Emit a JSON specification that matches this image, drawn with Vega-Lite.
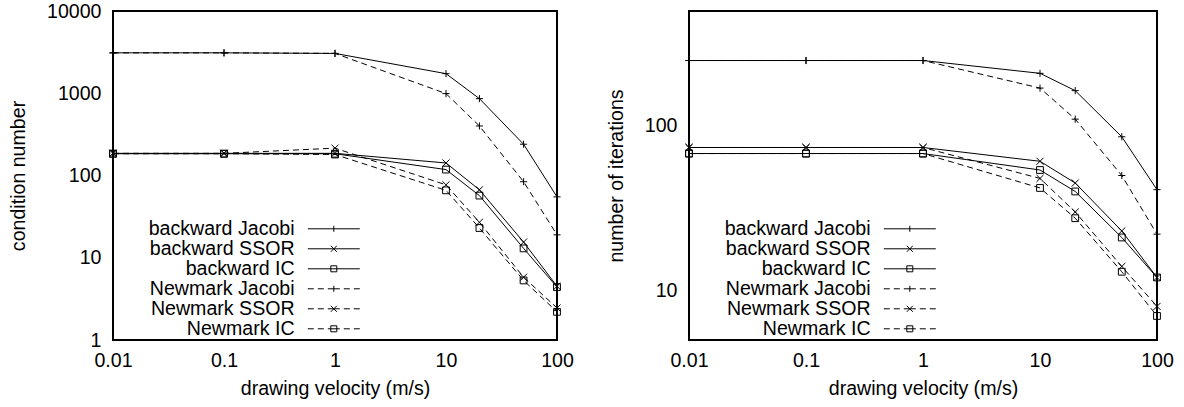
{
  "$schema": "https://vega.github.io/schema/vega-lite/v6.json",
  "padding": {"left": 7, "top": 0, "right": 0, "bottom": 0},
  "background": "white",
  "config": {
    "view": {"stroke": "black", "strokeWidth": 2},
    "axis": {
      "labelFont": "Liberation Sans", "labelFontSize": 19.6, "labelColor": "black",
      "titleFont": "Liberation Sans", "titleFontSize": 19.6, "titleFontWeight": "normal", "titleColor": "black",
      "domain": false, "grid": false, "tickColor": "black", "tickWidth": 1, "tickSize": 0,
      "labelFlush": false, "labelOverlap": false, "labelBound": false
    },
    "axisX": {"labelPadding": 11, "titlePadding": 10},
    "axisY": {"labelPadding": 12, "titlePadding": 18},
    "legend": {
      "orient": "none", "legendX": 211, "legendY": 208, "title": null, "padding": 0, "rowPadding": -2.2,
      "symbolSize": 16, "labelAlign": "right", "labelOffset": -49,
      "labelFont": "Liberation Sans", "labelFontSize": 19.6, "labelColor": "black", "labelLimit": 0,
      "symbolStrokeColor": "black", "symbolStrokeWidth": 1
    }
  },
  "datasets": {
    "cond": [
      {"s": "backward Jacobi", "v": 0.01, "y": 3100}, {"s": "backward Jacobi", "v": 0.1, "y": 3100}, {"s": "backward Jacobi", "v": 1, "y": 3050}, {"s": "backward Jacobi", "v": 10, "y": 1730}, {"s": "backward Jacobi", "v": 20, "y": 860}, {"s": "backward Jacobi", "v": 50, "y": 240}, {"s": "backward Jacobi", "v": 100, "y": 55},
      {"s": "backward SSOR", "v": 0.01, "y": 186}, {"s": "backward SSOR", "v": 0.1, "y": 186}, {"s": "backward SSOR", "v": 1, "y": 186}, {"s": "backward SSOR", "v": 10, "y": 142}, {"s": "backward SSOR", "v": 20, "y": 67}, {"s": "backward SSOR", "v": 50, "y": 15.5}, {"s": "backward SSOR", "v": 100, "y": 4.5},
      {"s": "backward IC", "v": 0.01, "y": 184}, {"s": "backward IC", "v": 0.1, "y": 184}, {"s": "backward IC", "v": 1, "y": 184}, {"s": "backward IC", "v": 10, "y": 118}, {"s": "backward IC", "v": 20, "y": 57}, {"s": "backward IC", "v": 50, "y": 13}, {"s": "backward IC", "v": 100, "y": 4.4},
      {"s": "Newmark Jacobi", "v": 0.01, "y": 3100}, {"s": "Newmark Jacobi", "v": 0.1, "y": 3100}, {"s": "Newmark Jacobi", "v": 1, "y": 3050}, {"s": "Newmark Jacobi", "v": 10, "y": 990}, {"s": "Newmark Jacobi", "v": 20, "y": 400}, {"s": "Newmark Jacobi", "v": 50, "y": 84}, {"s": "Newmark Jacobi", "v": 100, "y": 19},
      {"s": "Newmark SSOR", "v": 0.01, "y": 186}, {"s": "Newmark SSOR", "v": 0.1, "y": 186}, {"s": "Newmark SSOR", "v": 1, "y": 215}, {"s": "Newmark SSOR", "v": 10, "y": 77}, {"s": "Newmark SSOR", "v": 20, "y": 27}, {"s": "Newmark SSOR", "v": 50, "y": 5.8}, {"s": "Newmark SSOR", "v": 100, "y": 2.45},
      {"s": "Newmark IC", "v": 0.01, "y": 184}, {"s": "Newmark IC", "v": 0.1, "y": 184}, {"s": "Newmark IC", "v": 1, "y": 180}, {"s": "Newmark IC", "v": 10, "y": 66}, {"s": "Newmark IC", "v": 20, "y": 23}, {"s": "Newmark IC", "v": 50, "y": 5.3}, {"s": "Newmark IC", "v": 100, "y": 2.2}
    ],
    "iter": [
      {"s": "backward Jacobi", "v": 0.01, "y": 250}, {"s": "backward Jacobi", "v": 0.1, "y": 250}, {"s": "backward Jacobi", "v": 1, "y": 250}, {"s": "backward Jacobi", "v": 10, "y": 209}, {"s": "backward Jacobi", "v": 20, "y": 164}, {"s": "backward Jacobi", "v": 50, "y": 86}, {"s": "backward Jacobi", "v": 100, "y": 41},
      {"s": "backward SSOR", "v": 0.01, "y": 74}, {"s": "backward SSOR", "v": 0.1, "y": 74}, {"s": "backward SSOR", "v": 1, "y": 74}, {"s": "backward SSOR", "v": 10, "y": 61}, {"s": "backward SSOR", "v": 20, "y": 45}, {"s": "backward SSOR", "v": 50, "y": 23}, {"s": "backward SSOR", "v": 100, "y": 12},
      {"s": "backward IC", "v": 0.01, "y": 68}, {"s": "backward IC", "v": 0.1, "y": 68}, {"s": "backward IC", "v": 1, "y": 68}, {"s": "backward IC", "v": 10, "y": 54}, {"s": "backward IC", "v": 20, "y": 40}, {"s": "backward IC", "v": 50, "y": 21}, {"s": "backward IC", "v": 100, "y": 12},
      {"s": "Newmark Jacobi", "v": 0.01, "y": 250}, {"s": "Newmark Jacobi", "v": 0.1, "y": 250}, {"s": "Newmark Jacobi", "v": 1, "y": 250}, {"s": "Newmark Jacobi", "v": 10, "y": 170}, {"s": "Newmark Jacobi", "v": 20, "y": 110}, {"s": "Newmark Jacobi", "v": 50, "y": 50}, {"s": "Newmark Jacobi", "v": 100, "y": 22},
      {"s": "Newmark SSOR", "v": 0.01, "y": 74}, {"s": "Newmark SSOR", "v": 0.1, "y": 74}, {"s": "Newmark SSOR", "v": 1, "y": 74}, {"s": "Newmark SSOR", "v": 10, "y": 48}, {"s": "Newmark SSOR", "v": 20, "y": 30}, {"s": "Newmark SSOR", "v": 50, "y": 14}, {"s": "Newmark SSOR", "v": 100, "y": 8},
      {"s": "Newmark IC", "v": 0.01, "y": 68}, {"s": "Newmark IC", "v": 0.1, "y": 68}, {"s": "Newmark IC", "v": 1, "y": 68}, {"s": "Newmark IC", "v": 10, "y": 42}, {"s": "Newmark IC", "v": 20, "y": 27.5}, {"s": "Newmark IC", "v": 50, "y": 13}, {"s": "Newmark IC", "v": 100, "y": 7}
    ]
  },
  "resolve": {"scale": {"color": "independent"}, "legend": {"color": "independent"}},
  "spacing": 30,
  "hconcat": [
    {
      "width": 444, "height": 329,
      "data": {"name": "cond"},
      "layer": [
        {
          "transform": [{"filter": "indexof(datum.s, 'backward') >= 0"}],
          "mark": {"type": "line", "strokeWidth": 1, "clip": false},
          "encoding": {
            "x": {"field": "v", "type": "quantitative", "scale": {"type": "log", "domain": [0.01, 100], "nice": false},
              "axis": {"orient": "bottom", "title": "drawing velocity (m/s)",
                "values": [0.01,0.02,0.03,0.04,0.05,0.06,0.07,0.08,0.09,0.1,0.2,0.3,0.4,0.5,0.6,0.7,0.8,0.9,1,2,3,4,5,6,7,8,9,10,20,30,40,50,60,70,80,90,100],
                "labelExpr": "abs(log(datum.value)/LN10 - round(log(datum.value)/LN10)) < 0.001 ? format(datum.value, '~g') : ''",
                "encode": {"ticks": {"update": {"y2": {"signal": "abs(log(datum.value)/LN10 - round(log(datum.value)/LN10)) < 0.001 ? -6 : -3"}}}}}},
            "y": {"field": "y", "type": "quantitative", "scale": {"type": "log", "domain": [1, 10000], "nice": false},
              "axis": {"orient": "left", "title": "condition number",
                "values": [1,2,3,4,5,6,7,8,9,10,20,30,40,50,60,70,80,90,100,200,300,400,500,600,700,800,900,1000,2000,3000,4000,5000,6000,7000,8000,9000,10000],
                "labelExpr": "abs(log(datum.value)/LN10 - round(log(datum.value)/LN10)) < 0.001 ? format(datum.value, '~g') : ''",
                "encode": {"ticks": {"update": {"x2": {"signal": "abs(log(datum.value)/LN10 - round(log(datum.value)/LN10)) < 0.001 ? 6 : 3"}}}}}},
            "color": {"field": "s", "type": "nominal",
              "scale": {"domain": ["backward Jacobi","backward SSOR","backward IC","Newmark Jacobi","Newmark SSOR","Newmark IC"], "range": ["black","black","black","black","black","black"]},
              "legend": {"encode": {"symbols": {"update": {
                "shape": {"signal": "(indexof(datum.value, 'Newmark') >= 0 ? 'M-13,0H-10M-8,0H-5M-3,0H3M5,0H8M10,0H13' : 'M-13,0H13') + (indexof(datum.value, 'Jacobi') >= 0 ? 'M0,-1.5V1.5' : indexof(datum.value, 'SSOR') >= 0 ? 'M-1.5,-1.5L1.5,1.5M-1.5,1.5L1.5,-1.5' : 'M-1.5,-1.5H1.5V1.5H-1.5Z')"},
                "fill": {"value": "transparent"}, "stroke": {"value": "black"}, "strokeWidth": {"value": 1}}}}}}
          }
        },
        {
          "transform": [{"filter": "indexof(datum.s, 'Newmark') >= 0"}],
          "mark": {"type": "line", "strokeWidth": 1, "strokeDash": [6, 4], "clip": false},
          "encoding": {
            "x": {"field": "v", "type": "quantitative", "scale": {"type": "log", "domain": [0.01, 100], "nice": false}, "axis": null},
            "y": {"field": "y", "type": "quantitative", "scale": {"type": "log", "domain": [1, 10000], "nice": false}, "axis": null},
            "color": {"field": "s", "type": "nominal",
              "scale": {"domain": ["backward Jacobi","backward SSOR","backward IC","Newmark Jacobi","Newmark SSOR","Newmark IC"], "range": ["black","black","black","black","black","black"]},
              "legend": {"encode": {"symbols": {"update": {
                "shape": {"signal": "(indexof(datum.value, 'Newmark') >= 0 ? 'M-13,0H-10M-8,0H-5M-3,0H3M5,0H8M10,0H13' : 'M-13,0H13') + (indexof(datum.value, 'Jacobi') >= 0 ? 'M0,-1.5V1.5' : indexof(datum.value, 'SSOR') >= 0 ? 'M-1.5,-1.5L1.5,1.5M-1.5,1.5L1.5,-1.5' : 'M-1.5,-1.5H1.5V1.5H-1.5Z')"},
                "fill": {"value": "transparent"}, "stroke": {"value": "black"}, "strokeWidth": {"value": 1}}}}}}
          }
        },
        {
          "transform": [{"filter": "indexof(datum.s, 'Jacobi') >= 0"}],
          "mark": {"type": "point", "shape": "M-1,0H1M0,-1V1", "filled": false, "color": "black", "strokeWidth": 1, "size": 50, "opacity": 1, "clip": false},
          "encoding": {
            "x": {"field": "v", "type": "quantitative", "scale": {"type": "log", "domain": [0.01, 100], "nice": false},
              "axis": {"orient": "top", "title": null, "labels": false,
                "values": [0.01,0.02,0.03,0.04,0.05,0.06,0.07,0.08,0.09,0.1,0.2,0.3,0.4,0.5,0.6,0.7,0.8,0.9,1,2,3,4,5,6,7,8,9,10,20,30,40,50,60,70,80,90,100],
                "encode": {"ticks": {"update": {"y2": {"signal": "abs(log(datum.value)/LN10 - round(log(datum.value)/LN10)) < 0.001 ? 6 : 3"}}}}}},
            "y": {"field": "y", "type": "quantitative", "scale": {"type": "log", "domain": [1, 10000], "nice": false},
              "axis": {"orient": "right", "title": null, "labels": false,
                "values": [1,2,3,4,5,6,7,8,9,10,20,30,40,50,60,70,80,90,100,200,300,400,500,600,700,800,900,1000,2000,3000,4000,5000,6000,7000,8000,9000,10000],
                "encode": {"ticks": {"update": {"x2": {"signal": "abs(log(datum.value)/LN10 - round(log(datum.value)/LN10)) < 0.001 ? -6 : -3"}}}}}}
          }
        },
        {
          "transform": [{"filter": "indexof(datum.s, 'SSOR') >= 0"}],
          "mark": {"type": "point", "shape": "M-1,-1L1,1M-1,1L1,-1", "filled": false, "color": "black", "strokeWidth": 1, "size": 50, "opacity": 1, "clip": false},
          "encoding": {
            "x": {"field": "v", "type": "quantitative", "scale": {"type": "log", "domain": [0.01, 100], "nice": false}, "axis": null},
            "y": {"field": "y", "type": "quantitative", "scale": {"type": "log", "domain": [1, 10000], "nice": false}, "axis": null}
          }
        },
        {
          "transform": [{"filter": "indexof(datum.s, 'IC') >= 0"}],
          "mark": {"type": "point", "shape": "M-1,-1H1V1H-1Z", "filled": false, "color": "black", "strokeWidth": 1, "size": 46, "opacity": 1, "clip": false},
          "encoding": {
            "x": {"field": "v", "type": "quantitative", "scale": {"type": "log", "domain": [0.01, 100], "nice": false}, "axis": null},
            "y": {"field": "y", "type": "quantitative", "scale": {"type": "log", "domain": [1, 10000], "nice": false}, "axis": null}
          }
        }
      ],
      "resolve": {"axis": {"x": "independent", "y": "independent"}}
    },
    {
      "width": 468, "height": 329,
      "data": {"name": "iter"},
      "layer": [
        {
          "transform": [{"filter": "indexof(datum.s, 'backward') >= 0"}],
          "mark": {"type": "line", "strokeWidth": 1, "clip": false},
          "encoding": {
            "x": {"field": "v", "type": "quantitative", "scale": {"type": "log", "domain": [0.01, 100], "nice": false},
              "axis": {"orient": "bottom", "title": "drawing velocity (m/s)",
                "values": [0.01,0.02,0.03,0.04,0.05,0.06,0.07,0.08,0.09,0.1,0.2,0.3,0.4,0.5,0.6,0.7,0.8,0.9,1,2,3,4,5,6,7,8,9,10,20,30,40,50,60,70,80,90,100],
                "labelExpr": "abs(log(datum.value)/LN10 - round(log(datum.value)/LN10)) < 0.001 ? format(datum.value, '~g') : ''",
                "encode": {"ticks": {"update": {"y2": {"signal": "abs(log(datum.value)/LN10 - round(log(datum.value)/LN10)) < 0.001 ? -6 : -3"}}}}}},
            "y": {"field": "y", "type": "quantitative", "scale": {"type": "log", "domain": [5, 500], "nice": false},
              "axis": {"orient": "left", "title": "number of iterations",
                "values": [5,6,7,8,9,10,20,30,40,50,60,70,80,90,100,200,300,400,500],
                "labelExpr": "abs(log(datum.value)/LN10 - round(log(datum.value)/LN10)) < 0.001 ? format(datum.value, '~g') : ''",
                "encode": {"ticks": {"update": {"x2": {"signal": "abs(log(datum.value)/LN10 - round(log(datum.value)/LN10)) < 0.001 ? 6 : 3"}}}}}},
            "color": {"field": "s", "type": "nominal",
              "scale": {"domain": ["backward Jacobi","backward SSOR","backward IC","Newmark Jacobi","Newmark SSOR","Newmark IC"], "range": ["black","black","black","black","black","black"]},
              "legend": {"encode": {"symbols": {"update": {
                "shape": {"signal": "(indexof(datum.value, 'Newmark') >= 0 ? 'M-13,0H-10M-8,0H-5M-3,0H3M5,0H8M10,0H13' : 'M-13,0H13') + (indexof(datum.value, 'Jacobi') >= 0 ? 'M0,-1.5V1.5' : indexof(datum.value, 'SSOR') >= 0 ? 'M-1.5,-1.5L1.5,1.5M-1.5,1.5L1.5,-1.5' : 'M-1.5,-1.5H1.5V1.5H-1.5Z')"},
                "fill": {"value": "transparent"}, "stroke": {"value": "black"}, "strokeWidth": {"value": 1}}}}}}
          }
        },
        {
          "transform": [{"filter": "indexof(datum.s, 'Newmark') >= 0"}],
          "mark": {"type": "line", "strokeWidth": 1, "strokeDash": [6, 4], "clip": false},
          "encoding": {
            "x": {"field": "v", "type": "quantitative", "scale": {"type": "log", "domain": [0.01, 100], "nice": false}, "axis": null},
            "y": {"field": "y", "type": "quantitative", "scale": {"type": "log", "domain": [5, 500], "nice": false}, "axis": null},
            "color": {"field": "s", "type": "nominal",
              "scale": {"domain": ["backward Jacobi","backward SSOR","backward IC","Newmark Jacobi","Newmark SSOR","Newmark IC"], "range": ["black","black","black","black","black","black"]},
              "legend": {"encode": {"symbols": {"update": {
                "shape": {"signal": "(indexof(datum.value, 'Newmark') >= 0 ? 'M-13,0H-10M-8,0H-5M-3,0H3M5,0H8M10,0H13' : 'M-13,0H13') + (indexof(datum.value, 'Jacobi') >= 0 ? 'M0,-1.5V1.5' : indexof(datum.value, 'SSOR') >= 0 ? 'M-1.5,-1.5L1.5,1.5M-1.5,1.5L1.5,-1.5' : 'M-1.5,-1.5H1.5V1.5H-1.5Z')"},
                "fill": {"value": "transparent"}, "stroke": {"value": "black"}, "strokeWidth": {"value": 1}}}}}}
          }
        },
        {
          "transform": [{"filter": "indexof(datum.s, 'Jacobi') >= 0"}],
          "mark": {"type": "point", "shape": "M-1,0H1M0,-1V1", "filled": false, "color": "black", "strokeWidth": 1, "size": 50, "opacity": 1, "clip": false},
          "encoding": {
            "x": {"field": "v", "type": "quantitative", "scale": {"type": "log", "domain": [0.01, 100], "nice": false},
              "axis": {"orient": "top", "title": null, "labels": false,
                "values": [0.01,0.02,0.03,0.04,0.05,0.06,0.07,0.08,0.09,0.1,0.2,0.3,0.4,0.5,0.6,0.7,0.8,0.9,1,2,3,4,5,6,7,8,9,10,20,30,40,50,60,70,80,90,100],
                "encode": {"ticks": {"update": {"y2": {"signal": "abs(log(datum.value)/LN10 - round(log(datum.value)/LN10)) < 0.001 ? 6 : 3"}}}}}},
            "y": {"field": "y", "type": "quantitative", "scale": {"type": "log", "domain": [5, 500], "nice": false},
              "axis": {"orient": "right", "title": null, "labels": false,
                "values": [5,6,7,8,9,10,20,30,40,50,60,70,80,90,100,200,300,400,500],
                "encode": {"ticks": {"update": {"x2": {"signal": "abs(log(datum.value)/LN10 - round(log(datum.value)/LN10)) < 0.001 ? -6 : -3"}}}}}}
          }
        },
        {
          "transform": [{"filter": "indexof(datum.s, 'SSOR') >= 0"}],
          "mark": {"type": "point", "shape": "M-1,-1L1,1M-1,1L1,-1", "filled": false, "color": "black", "strokeWidth": 1, "size": 50, "opacity": 1, "clip": false},
          "encoding": {
            "x": {"field": "v", "type": "quantitative", "scale": {"type": "log", "domain": [0.01, 100], "nice": false}, "axis": null},
            "y": {"field": "y", "type": "quantitative", "scale": {"type": "log", "domain": [5, 500], "nice": false}, "axis": null}
          }
        },
        {
          "transform": [{"filter": "indexof(datum.s, 'IC') >= 0"}],
          "mark": {"type": "point", "shape": "M-1,-1H1V1H-1Z", "filled": false, "color": "black", "strokeWidth": 1, "size": 46, "opacity": 1, "clip": false},
          "encoding": {
            "x": {"field": "v", "type": "quantitative", "scale": {"type": "log", "domain": [0.01, 100], "nice": false}, "axis": null},
            "y": {"field": "y", "type": "quantitative", "scale": {"type": "log", "domain": [5, 500], "nice": false}, "axis": null}
          }
        }
      ],
      "resolve": {"axis": {"x": "independent", "y": "independent"}}
    }
  ]
}
